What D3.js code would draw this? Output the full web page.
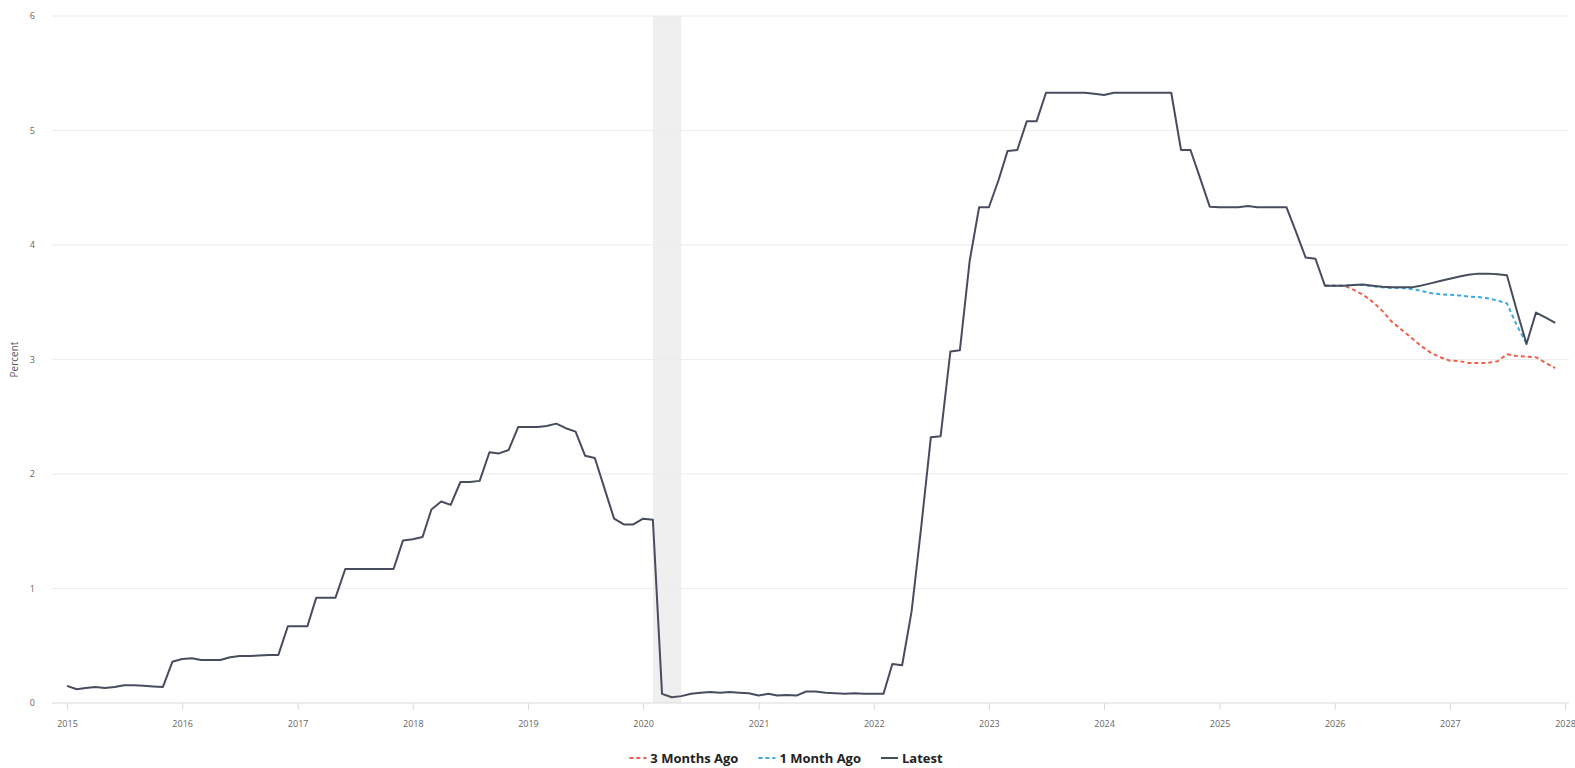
<!DOCTYPE html>
<html>
<head>
<meta charset="utf-8">
<script src="https://cdn.jsdelivr.net/npm/d3@7"></script>
<style>
  html, body { margin: 0; padding: 0; background: #fff; }
  svg { display: block; }
</style>
</head>
<body>
<svg id="chart" width="1575" height="768"></svg>
<script>
// ---------------- DATA ----------------
const historyStart = "2015-01";
// Monthly values, Jan 2015 - Dec 2025 (percent)
const history2015 = [0.15, 0.12, 0.13, 0.14, 0.13, 0.14, 0.155, 0.155, 0.15, 0.145, 0.14, 0.36];
const history2016 = [0.385, 0.39, 0.375, 0.375, 0.375, 0.40, 0.41, 0.41, 0.415, 0.42, 0.42, 0.67];
const history2017 = [0.67, 0.67, 0.92, 0.92, 0.92, 1.17, 1.17, 1.17, 1.17, 1.17, 1.17, 1.42];
const history2018 = [1.43, 1.45, 1.69, 1.76, 1.73, 1.93, 1.93, 1.94, 2.19, 2.18, 2.21, 2.41];
const history2019 = [2.41, 2.41, 2.42, 2.44, 2.40, 2.37, 2.16, 2.14, 1.87, 1.61, 1.56, 1.56];
const history2020 = [1.61, 1.60, 0.08, 0.05, 0.06, 0.08, 0.09, 0.095, 0.09, 0.095, 0.09, 0.085];
const history2021 = [0.065, 0.08, 0.065, 0.07, 0.065, 0.10, 0.10, 0.09, 0.085, 0.08, 0.085, 0.08];
const history2022 = [0.08, 0.08, 0.34, 0.33, 0.80, 1.55, 2.32, 2.33, 3.07, 3.08, 3.86, 4.33];
const history2023 = [4.33, 4.57, 4.82, 4.83, 5.08, 5.08, 5.33, 5.33, 5.33, 5.33, 5.33, 5.32];
const history2024 = [5.31, 5.33, 5.33, 5.33, 5.33, 5.33, 5.33, 5.33, 4.83, 4.83, 4.58, 4.335];
const history2025 = [4.33, 4.33, 4.33, 4.34, 4.33, 4.33, 4.33, 4.33, 4.11, 3.89, 3.88, 3.645];

// Latest projection, Jan 2026 - Dec 2027
const latestForecastStart = "2026-01";
const latestForecast = [3.645, 3.645, 3.65, 3.655, 3.645, 3.635, 3.63, 3.63, 3.63, 3.645, 3.665, 3.685,
                        3.705, 3.725, 3.74, 3.75, 3.75, 3.745, 3.735, 3.43, 3.135, 3.41, 3.365, 3.32];
// 1 Month Ago projection, Dec 2025 - Sep 2027
const oneMonthStart = "2025-12";
const oneMonthAgo = [3.645, 3.645, 3.645, 3.65, 3.65, 3.64, 3.63, 3.625, 3.625, 3.615, 3.60, 3.58,
                     3.57, 3.565, 3.56, 3.55, 3.545, 3.535, 3.515, 3.49, 3.30, 3.14];
// 3 Months Ago projection, Dec 2025 - Dec 2027
const threeMonthsStart = "2025-12";
const threeMonthsAgo = [3.645, 3.645, 3.645, 3.61, 3.565, 3.505, 3.425, 3.33, 3.26, 3.19, 3.12, 3.06,
                        3.02, 2.99, 2.985, 2.97, 2.97, 2.97, 2.985, 3.045, 3.03, 3.025, 3.02, 2.97, 2.925];

const recession = ["2020-02", "2020-05"];
const xTickYears = [2015, 2016, 2017, 2018, 2019, 2020, 2021, 2022, 2023, 2024, 2025, 2026, 2027, 2028];
const yTicks = [0, 1, 2, 3, 4, 5, 6];
const seriesNames = ["3 Months Ago", "1 Month Ago", "Latest"];
const yTitle = "Percent";

// ---------------- BUILD ----------------
const parseMonth = d3.timeParse("%Y-%m");
function toSeries(start, values) {
  const s = parseMonth(start);
  return values.map((v, i) => ({ date: d3.timeMonth.offset(s, i), value: v }));
}
const historyValues = [].concat(history2015, history2016, history2017, history2018, history2019,
  history2020, history2021, history2022, history2023, history2024, history2025);
const latestSeries = toSeries(historyStart, historyValues).concat(toSeries(latestForecastStart, latestForecast));
const oneMonthSeries = toSeries(oneMonthStart, oneMonthAgo);
const threeMonthsSeries = toSeries(threeMonthsStart, threeMonthsAgo);

const colors = { three: "#f0604b", one: "#3da8de", latest: "#474d5d" };

const svg = d3.select("#chart");
const plotLeft = 52, plotRight = 1569, plotTop = 16, plotBottom = 703;

const x = d3.scaleTime()
  .domain([new Date(2015, 0, 1), new Date(2028, 0, 1)])
  .range([67, 1565]);
const y = d3.scaleLinear().domain([0, 6]).range([plotBottom, plotTop]);

const font = "'Open Sans', 'Segoe UI', sans-serif";

// recession band
svg.append("rect")
  .attr("x", x(parseMonth(recession[0])))
  .attr("y", plotTop)
  .attr("width", x(parseMonth(recession[1])) - x(parseMonth(recession[0])))
  .attr("height", plotBottom - plotTop)
  .attr("fill", "#efefef");

// gridlines
svg.append("g").selectAll("line")
  .data(yTicks.filter(d => d > 0))
  .join("line")
  .attr("x1", plotLeft).attr("x2", plotRight)
  .attr("y1", d => y(d)).attr("y2", d => y(d))
  .attr("stroke", "#ececec").attr("stroke-width", 1.2);

// y labels
svg.append("g").selectAll("text")
  .data(yTicks)
  .join("text")
  .attr("x", 35).attr("y", d => y(d))
  .attr("dy", "0.35em")
  .attr("text-anchor", "end")
  .attr("font-family", font).attr("font-size", 9)
  .attr("fill", "#666")
  .text(d => d);

// y title
svg.append("text")
  .attr("transform", `translate(18,${(plotTop + plotBottom) / 2}) rotate(-90)`)
  .attr("text-anchor", "middle")
  .attr("font-family", font).attr("font-size", 10)
  .attr("fill", "#555")
  .text(yTitle);

// x axis
const xAxis = d3.axisBottom(x)
  .tickValues(xTickYears.map(yr => new Date(yr, 0, 1)))
  .tickFormat(d3.timeFormat("%Y"))
  .tickSize(7)
  .tickSizeOuter(0);
const gx = svg.append("g").attr("transform", `translate(0,${plotBottom})`).call(xAxis);
gx.select(".domain").remove();
gx.selectAll(".tick line").attr("stroke", "#d8d8d8");
gx.selectAll(".tick text")
  .attr("font-family", font).attr("font-size", 9).attr("fill", "#666").attr("dy", "1.6em");
svg.append("line")
  .attr("x1", plotLeft).attr("x2", plotRight)
  .attr("y1", plotBottom).attr("y2", plotBottom)
  .attr("stroke", "#dcdcdc").attr("stroke-width", 1.2);

// lines
const line = d3.line().x(d => x(d.date)).y(d => y(d.value));
svg.append("path").datum(threeMonthsSeries)
  .attr("d", line).attr("fill", "none")
  .attr("stroke", colors.three).attr("stroke-width", 2)
  .attr("stroke-dasharray", "4,3");
svg.append("path").datum(oneMonthSeries)
  .attr("d", line).attr("fill", "none")
  .attr("stroke", colors.one).attr("stroke-width", 2)
  .attr("stroke-dasharray", "4,3");
svg.append("path").datum(latestSeries)
  .attr("d", line).attr("fill", "none")
  .attr("stroke", colors.latest).attr("stroke-width", 2)
  .attr("stroke-linejoin", "round");

// legend
const legendItems = [
  { name: seriesNames[0], color: colors.three, dash: "4,3" },
  { name: seriesNames[1], color: colors.one, dash: "4,3" },
  { name: seriesNames[2], color: colors.latest, dash: null }
];
const lg = svg.append("g");
const legendY = 758;
let cx = 0;
const itemGroups = [];
legendItems.forEach((it, i) => {
  const g = lg.append("g");
  g.append("line")
    .attr("x1", 0).attr("x2", 17).attr("y1", 0).attr("y2", 0)
    .attr("stroke", it.color).attr("stroke-width", 2)
    .attr("stroke-dasharray", it.dash);
  const t = g.append("text")
    .attr("x", 21).attr("dy", "0.35em")
    .attr("font-family", font).attr("font-size", 13).attr("font-weight", 700)
    .attr("fill", "#222")
    .text(it.name);
  const w = 21 + t.node().getComputedTextLength();
  g.attr("transform", `translate(${cx},${legendY})`);
  cx += w + 20;
  itemGroups.push(g);
});
const totalW = cx - 20;
lg.attr("transform", `translate(${786 - totalW / 2},0)`);
</script>
</body>
</html>
